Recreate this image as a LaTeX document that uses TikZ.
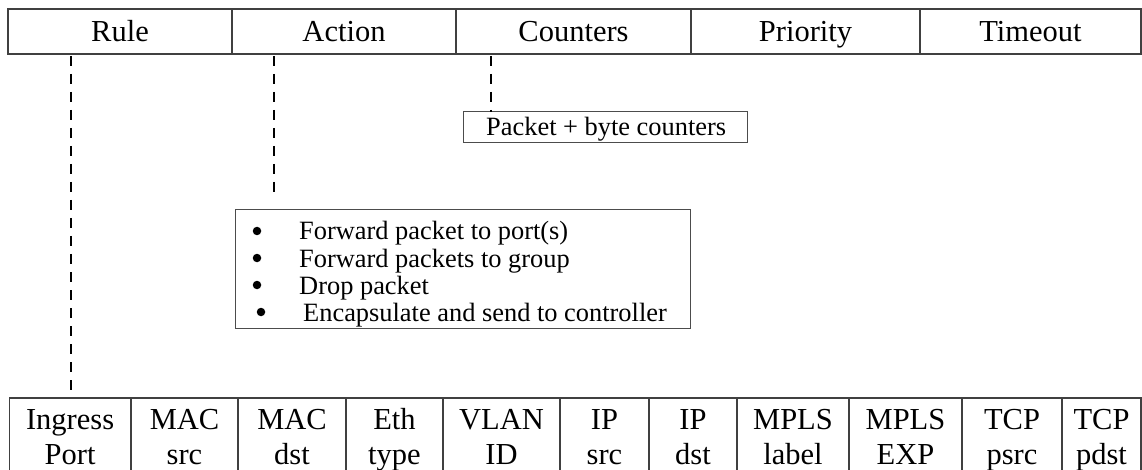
\documentclass[tikz,border=0pt]{standalone}
\usepackage{fontspec}
\setmainfont{Liberation Serif}
\begin{document}
\begin{tikzpicture}[x=1pt,y=-1pt,
  cellline/.style={draw=black!75, line width=1.3pt},
  hcell/.style={cellline, anchor=north west, inner sep=0pt, outer sep=0pt,
    minimum height=45pt, text height=25pt, text depth=5pt,
    font=\fontsize{30.5}{35}\selectfont},
  fcell/.style={cellline, anchor=north west, inner sep=0pt, outer sep=0pt,
    minimum height=80pt},
  ftext/.style={inner sep=0pt, anchor=base, font=\fontsize{30.5}{35}\selectfont},
  infobox/.style={draw=black!70, line width=1pt, anchor=north west, inner sep=0pt, outer sep=0pt},
  dashline/.style={draw=black, line width=2.6pt, dash pattern=on 10pt off 8pt},
  boxtext/.style={font=\fontsize{26.4}{30}\selectfont, inner sep=0pt, anchor=base west},
  dot/.style={circle, fill=black, inner sep=0pt, minimum size=8.5pt}]
\useasboundingbox (0,0) rectangle (1142,470);

% flow entry header
\node[hcell, minimum width=224pt] (rule)     at (8,9)   {Rule};
\node[hcell, minimum width=224pt] (action)   at (232,9) {Action};
\node[hcell, minimum width=235pt] (counters) at (456,9) {Counters};
\node[hcell, minimum width=229pt] (priority) at (691,9) {Priority};
\node[hcell, minimum width=221pt] (timeout)  at (920,9) {Timeout};

% match fields: cell frames
\node[fcell, minimum width=121pt] (ingress) at (9.6,398) {};
\node[fcell, minimum width=107pt] (macsrc)  at (131,398) {};
\node[fcell, minimum width=108pt] (macdst)  at (238,398) {};
\node[fcell, minimum width=97pt]  (ethtype) at (346,398) {};
\node[fcell, minimum width=117pt] (vlan)    at (443,398) {};
\node[fcell, minimum width=89pt]  (ipsrc)   at (560,398) {};
\node[fcell, minimum width=88pt]  (ipdst)   at (649,398) {};
\node[fcell, minimum width=112pt] (mplsl)   at (737,398) {};
\node[fcell, minimum width=113pt] (mplse)   at (849,398) {};
\node[fcell, minimum width=100pt] (tcps)    at (962,398) {};
\node[fcell, minimum width=79pt]  (tcpd)    at (1062,398) {};

% match fields: two-line labels
\foreach \c/\a/\b in {ingress/Ingress/Port, macsrc/MAC/src, macdst/MAC/dst,
    ethtype/Eth/type, vlan/VLAN/ID, ipsrc/IP/src, ipdst/IP/dst,
    mplsl/MPLS/label, mplse/MPLS/EXP, tcps/TCP/psrc, tcpd/TCP/pdst}{
  \node[ftext] (\c-1) at ([yshift=-31pt]\c.north) {\a};
  \node[ftext] (\c-2) at ([yshift=-66pt]\c.north) {\b};
}

% counters box
\node[infobox, minimum width=284pt, minimum height=31pt] (pktbox) at (463,112) {};
\node[boxtext] (pkttext) at (486,136) {Packet + byte counters};

% actions box
\node[infobox, minimum width=455pt, minimum height=118pt] (actbox) at (235,210) {};
\node[dot] (b1) at (257,231) {};
\node[boxtext] (t1) at (299,240) {Forward packet to port(s)};
\node[dot] (b2) at (257,258) {};
\node[boxtext] (t2) at (299,267) {Forward packets to group};
\node[dot] (b3) at (257,285) {};
\node[boxtext] (t3) at (299,294) {Drop packet};
\node[dot] (b4) at (261,312) {};
\node[boxtext] (t4) at (303,321) {Encapsulate and send to controller};

% dashed leaders
\coordinate (ruleTop)  at ([xshift=-49pt]rule.south);
\coordinate (ruleEnd)  at (ruleTop |- 0,396);
\coordinate (actTop)   at ([xshift=-70pt]action.south);
\coordinate (actEnd)   at (actTop |- 0,196);
\coordinate (cntTop)   at ([xshift=-82.5pt]counters.south);
\coordinate (cntEnd)   at (cntTop |- pktbox.north);
\draw[dashline] ([yshift=-2pt]ruleTop) -- (ruleEnd);
\draw[dashline] ([yshift=-2pt]actTop) -- (actEnd);
\draw[dashline] ([yshift=-2pt]cntTop) -- (cntEnd);
\end{tikzpicture}
\end{document}
